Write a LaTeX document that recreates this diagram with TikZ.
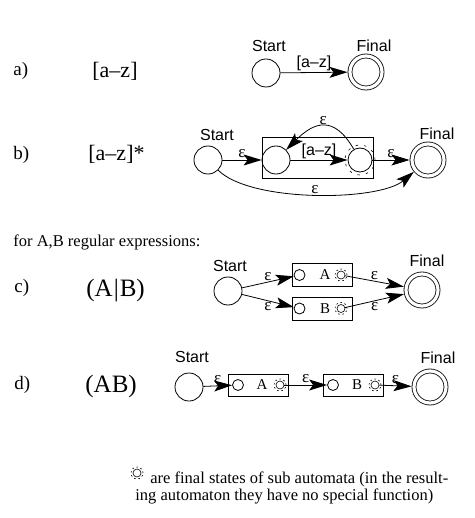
\documentclass[tikz,border=0pt]{standalone}
\usepackage{fontspec}
\setmainfont{Liberation Serif}
\setsansfont{Liberation Sans}
\usetikzlibrary{arrows.meta,positioning}
\tikzstyle{state}=[circle, draw
,minimum size=28pt
,inner sep=0pt
]
\tikzstyle{final state} = [state, minimum size=32pt, double, double distance=3.2pt, outer sep=2.5pt]
\tikzstyle{small state} = [state, minimum size=11pt]
\tikzstyle{sub final} = [state, minimum size=8pt, line width=0.6pt]
\tikzstyle{ring} = [dash pattern=on 1.6pt off 2.6pt, line width=0.6pt]
\tikzstyle{sub box} = [draw, rectangle, minimum width=60pt, minimum height=23pt, inner sep=0pt]
\tikzset{edge/.style={draw, arrows={-Stealth[length=18pt, width=11pt, inset=4pt]}}}
\tikzstyle{eps} = [font=\fontsize{17}{17}\selectfont, inner sep=1.5pt]
\tikzstyle{tag} = [font=\sffamily\fontsize{16}{16}\selectfont, inner sep=0pt]
\tikzstyle{case} = [font=\fontsize{19}{19}\selectfont, inner sep=0pt, anchor=west]
\tikzstyle{regex} = [font=\fontsize{22}{22}\selectfont, inner sep=0pt, anchor=west]
\tikzstyle{big regex} = [font=\fontsize{25}{25}\selectfont, inner sep=0pt, anchor=west]
\tikzstyle{remark} = [font=\fontsize{16.5}{17}\selectfont, inner sep=0pt, anchor=west]
\tikzstyle{letter} = [font=\fontsize{15}{15}\selectfont, inner sep=0pt]

\begin{document}
\begin{tikzpicture}[x=1pt,y=1pt,line width=0.8pt]
    \useasboundingbox (0,0) rectangle (474,-518);
    % Case letters and regular expressions
    \foreach \pos/\name/\txt in {{(13,-71)/caseA/a)}, {(13,-155)/caseB/b)}, {(14,-288)/caseC/c)}, {(14,-385)/caseD/d)}}
        \node[case] (\name) at \pos {\txt};
    \node[regex] (exprA) at (92,-71) {[a–z]};
    \node[regex] (exprB) at (88,-154) {[a–z]*};
    \node[big regex] (exprC) at (86,-291) {(A\kern1pt|\kern1pt B)};
    \node[big regex] (exprD) at (85,-386) {(AB)};
    \node[remark] (forAB) at (13,-242) {for A,B regular expressions:};

    % a) one transition
    \node[state] (aS) at (266,-73) {};
    \node[final state] (aF) at (366,-72) {};
    \node[tag, above=7pt of aS, xshift=3pt] (aSt) {Start};
    \node[tag, above=1pt of aF, xshift=8pt] (aFt) {Final};
    \path[edge] (aS) -- node[tag, above=1pt] (aLab) {[a–z]} (aF);

    % b) star
    \node[draw, rectangle, minimum width=111pt, minimum height=41pt] (bBox) at (317.5,-157.5) {};
    \node[state] (bS) at (208,-160) {};
    \node[state] (b1) at (276,-160) {};
    \node[state, minimum size=24pt] (b2) at (360,-160) {};
    \draw[dash pattern=on 2.5pt off 6pt, line width=0.6pt] (b2) circle (15pt);
    \node[final state] (bF) at (428,-160) {};
    \node[tag, above=5pt of bS, xshift=9pt] (bSt) {Start};
    \node[tag, above=1pt of bF, xshift=9pt] (bFt) {Final};
    \path[edge] (bS) -- node[eps, above] (bE1) {ε} (b1);
    \path[edge] (b1) -- node[tag, above=1pt] (bLab) {[a–z]} (b2);
    \path[edge] (b2) -- node[eps, above] (bE2) {ε} (bF);
    \path[edge] (b2) to[out=120, in=45, looseness=1.5] node[eps, above] (bE3) {ε} (b1);
    \path[edge] (bS) to[out=-45, in=-140, looseness=0.6] node[eps, above=-1pt] (bE4) {ε} (bF);

    % c) alternative
    \node[sub box] (cA) at (322,-275) {};
    \node[sub box] (cB) at (322,-308.5) {};
    \foreach \pos/\name in {{(299.5,-275)/cA1}, {(299.5,-308.5)/cB1}}
        \node[small state] (\name) at \pos {};
    \foreach \pos/\name in {{(341,-275)/cA2}, {(341,-308.5)/cB2}}
        \node[sub final] (\name) at \pos {};
    \node[letter] (cAt) at (325,-275) {A};
    \node[letter] (cBt) at (325,-308.5) {B};
    \node[state] (cS) at (228,-291) {};
    \node[final state] (cF) at (422,-290) {};
    \node[tag, above=5pt of cS, xshift=2pt] (cSt) {Start};
    \node[tag, above=4pt of cF, xshift=5pt] (cFt) {Final};
    \path[edge] (cS) -- node[eps, above] (cE1) {ε} (cA1);
    \path[edge] (cS) -- node[eps, below] (cE2) {ε} (cB1);
    \path[edge] (cA2) -- node[eps, above] (cE3) {ε} (cF);
    \path[edge] (cB2) -- node[eps, below] (cE4) {ε} (cF);

    % d) concatenation
    \node[sub box, minimum height=22pt] (dA) at (258.5,-385) {};
    \node[sub box, minimum height=22pt] (dB) at (353.5,-385) {};
    \foreach \pos/\name in {{(238,-385)/dA1}, {(333,-385)/dB1}}
        \node[small state] (\name) at \pos {};
    \foreach \pos/\name in {{(280,-385)/dA2}, {(375,-385)/dB2}}
        \node[sub final] (\name) at \pos {};
    \node[letter] (dAt) at (262,-385) {A};
    \node[letter] (dBt) at (357,-385) {B};
    \node[state] (dS) at (189,-387) {};
    \node[final state] (dF) at (430,-387) {};
    \node[tag, above=10pt of dS, xshift=3pt] (dSt) {Start};
    \node[tag, above=4pt of dF, xshift=8pt] (dFt) {Final};
    \path[edge] (dS) -- node[eps, above] (dE1) {ε} (dA1);
    \path[edge] (dA2) -- node[eps, above] (dE2) {ε} (dB1);
    \path[edge] (dB2) -- node[eps, above] (dE3) {ε} (dF);

    % note on the sub automata
    \node[sub final] (noteF) at (137,-473) {};
    \node[remark, anchor=base west, align=left] (noteT) at (135,-500)
        {\hspace*{15pt}are final states of sub automata (in the result-\\ing automaton they have no special function)};

    \foreach \name in {cA2, cB2, dA2, dB2, noteF}
        \draw[ring] (\name) circle (6pt);
\end{tikzpicture}
\end{document}
